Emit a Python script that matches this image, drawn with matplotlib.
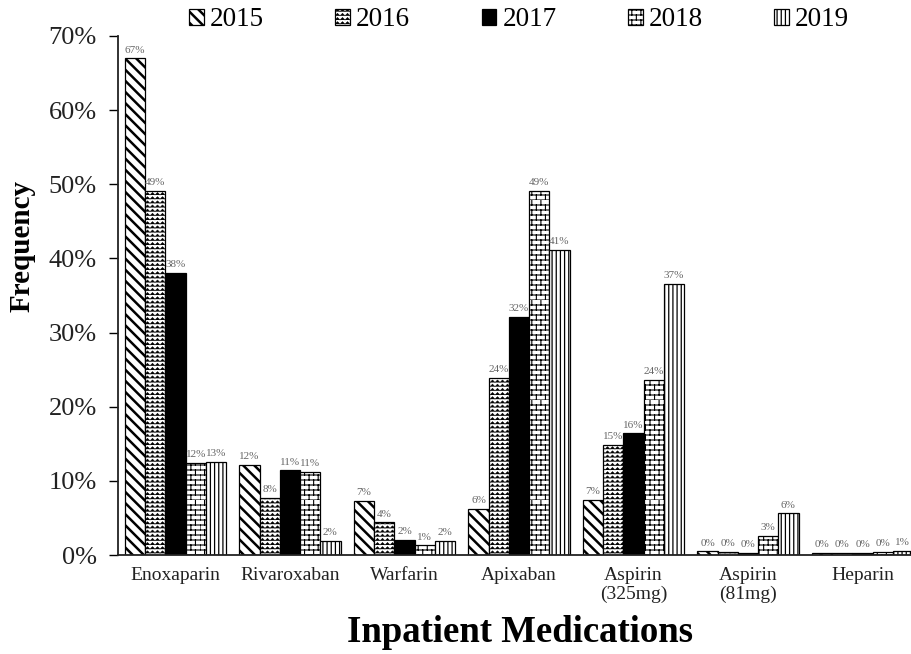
import warnings
import numpy as np
import matplotlib
matplotlib.use("Agg")
import matplotlib as mpl
import matplotlib.pyplot as plt
import matplotlib.hatch as mhatch
from matplotlib.path import Path

warnings.filterwarnings("ignore")

categories = ["Enoxaparin", "Rivaroxaban", "Warfarin", "Apixaban",
              "Aspirin\n(325mg)", "Aspirin\n(81mg)", "Heparin"]
years = ["2015", "2016", "2017", "2018", "2019"]
v2015 = [67.0, 12.2, 7.3, 6.2, 7.4, 0.5, 0.3]
v2016 = [49.1, 7.7, 4.4, 23.9, 14.9, 0.4, 0.3]
v2017 = [38.1, 11.4, 2.0, 32.1, 16.4, 0.3, 0.3]
v2018 = [12.4, 11.2, 1.3, 49.1, 23.6, 2.6, 0.4]
v2019 = [12.6, 1.9, 1.9, 41.2, 36.6, 5.6, 0.6]
series = [v2015, v2016, v2017, v2018, v2019]
yticks = [0, 10, 20, 30, 40, 50, 60, 70]


# ---- custom hatch patterns: zigzag ('z') and bricks ('b') ----
class ZigZagHatch(mhatch.HatchPatternBase):
    def __init__(self, hatch, density):
        c = hatch.count('z')
        self.n = 24 * c   # rows
        self.nz = 20 * c  # teeth per row
        self.m = 2 * self.nz + 1
        self.num_vertices = self.n * self.m if self.n else 0

    def set_vertices_and_codes(self, vertices, codes):
        n, m = self.n, self.m
        xs = np.linspace(0, 1, m)
        amp = 0.6 / n
        off = np.where(np.arange(m) % 2 == 0, 0.0, amp)
        k = 0
        for i in range(n):
            y0 = (i + 0.2) / n
            vertices[k:k + m, 0] = xs
            vertices[k:k + m, 1] = y0 + off
            codes[k] = Path.MOVETO
            codes[k + 1:k + m] = Path.LINETO
            k += m


class BrickHatch(mhatch.HatchPatternBase):
    def __init__(self, hatch, density):
        c = hatch.count('b')
        self.n = 20 * c   # rows (even)
        self.mb = 11 * c  # bricks per row
        if self.n:
            self.num_vertices = 2 * self.n + 2 * self.n * self.mb
        else:
            self.num_vertices = 0

    def set_vertices_and_codes(self, vertices, codes):
        n, mb = self.n, self.mb
        k = 0
        for i in range(n):
            y = i / n
            vertices[k] = (0, y)
            vertices[k + 1] = (1, y)
            codes[k] = Path.MOVETO
            codes[k + 1] = Path.LINETO
            k += 2
        for i in range(n):
            y0 = i / n
            y1 = (i + 1) / n
            shift = 0.5 / mb if i % 2 else 0.0
            for j in range(mb):
                x = j / mb + shift
                vertices[k] = (x, y0)
                vertices[k + 1] = (x, y1)
                codes[k] = Path.MOVETO
                codes[k + 1] = Path.LINETO
                k += 2


mhatch._hatch_types.append(ZigZagHatch)
mhatch._hatch_types.append(BrickHatch)

plt.rcParams['font.family'] = ['Liberation Serif', 'DejaVu Serif']
plt.rcParams['hatch.color'] = 'black'

hatches = ['\\\\\\', 'z', None, 'b', '||||']
facecolors = ['white', 'white', 'black', 'white', 'white']
hatch_lw = [1.8, 0.4, 1.0, 0.8, 0.9]
hatch_col = ['black', '#666666', 'black', 'black', 'black']


def set_hlw(artist, lw):
    if hasattr(artist, 'set_hatch_linewidth'):
        artist.set_hatch_linewidth(lw)
    else:
        artist._hatch_linewidth = lw
    orig = artist.draw

    def draw(renderer, _orig=orig, _lw=lw):
        with mpl.rc_context({'hatch.linewidth': _lw}):
            _orig(renderer)
    artist.draw = draw


fig = plt.figure(figsize=(9.11, 6.54), dpi=100)
ax = fig.add_axes([118.25 / 911, 99 / 654, 801.5 / 911, 519 / 654])

x = np.arange(len(categories))
bw = 0.1765
containers = []
for i, (vals, yr) in enumerate(zip(series, years)):
    pos = x + (i - 2) * bw
    with mpl.rc_context({'hatch.linewidth': hatch_lw[i],
                         'hatch.color': hatch_col[i]}):
        bars = ax.bar(pos, vals, width=bw, color=facecolors[i],
                      edgecolor='black', linewidth=0.9, hatch=hatches[i],
                      label=yr)
    for b in bars:
        set_hlw(b, hatch_lw[i])
    containers.append(bars)
    for xp, v in zip(pos, vals):
        ax.text(xp, v + 0.5, f"{v:.0f}%", ha='center', va='bottom',
                fontsize=8, color='#666666')

ax.set_xlim(-0.5, 6.5)
ax.set_ylim(0, 70)
ax.set_yticks(yticks)
ax.set_yticklabels([f"{t}%" for t in yticks], fontsize=19, color='#222222')
ax.set_xticks(x)
ax.set_xticklabels(categories, fontsize=14, color='#222222', linespacing=1.1)
ax.tick_params(axis='x', length=0, pad=9)
ax.tick_params(axis='y', length=6.5, width=1.0, pad=9, direction='out')
for s in ['top', 'right']:
    ax.spines[s].set_visible(False)
for s in ['left', 'bottom']:
    ax.spines[s].set_linewidth(1.3)
    ax.spines[s].set_color('#222222')

fig.text(22 / 911, 1 - 246 / 654, "Frequency", rotation=90, ha='center',
         va='center', fontsize=21, fontweight='bold')
fig.text(520 / 911, 1 - 632 / 654, "Inpatient Medications", ha='center',
         va='center', fontsize=26.5, fontweight='bold')

with mpl.rc_context({'hatch.linewidth': 1.0}):
    leg = fig.legend(handles=containers, labels=years, loc='center',
                     bbox_to_anchor=(519 / 911, 1 - 20 / 654), ncol=5,
                     frameon=False, fontsize=19.5, handlelength=0.55,
                     handleheight=0.55, handletextpad=0.22, columnspacing=2.63,
                     borderaxespad=0)
for p, lw in zip(leg.get_patches(), hatch_lw):
    set_hlw(p, lw)

fig.savefig("out.png", dpi=100)
